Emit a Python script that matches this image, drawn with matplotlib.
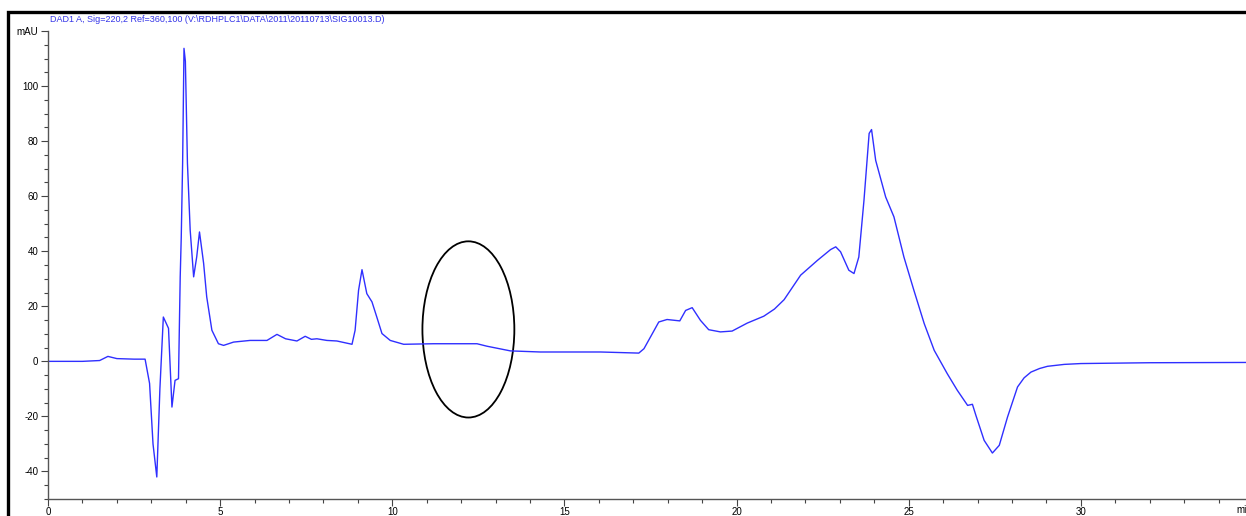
import matplotlib
matplotlib.use("Agg")
import matplotlib.pyplot as plt
from matplotlib.patches import Ellipse, Rectangle

plt.rcParams['font.family'] = ['Liberation Sans', 'DejaVu Sans']

# Retention time (min) and absorbance (mAU)
time_min = [0.0, 1.0, 1.5, 1.74, 2.0, 2.5, 2.82, 2.95, 3.05, 3.16, 3.25, 3.35, 3.50,
            3.60, 3.69, 3.79, 3.84, 3.87, 3.91, 3.95, 3.99, 4.05, 4.13, 4.23, 4.32,
            4.40, 4.52, 4.61, 4.76, 4.95, 5.10, 5.39, 5.87, 6.36, 6.65, 6.9, 7.23,
            7.47, 7.65, 7.81, 8.1, 8.39, 8.83, 8.92, 9.02, 9.12, 9.26, 9.41, 9.55,
            9.70, 9.94, 10.33, 11.2, 12.46, 12.75, 13.43, 14.3, 16.05, 17.16, 17.31,
            17.55, 17.74, 17.98, 18.35, 18.52, 18.71, 18.95, 19.19, 19.53, 19.87, 20.31,
            20.79, 21.1, 21.38, 21.86, 22.35, 22.73, 22.88, 23.02, 23.26, 23.41, 23.55,
            23.70, 23.85, 23.92, 24.04, 24.33, 24.57, 24.86, 25.15, 25.45, 25.74,
            26.12, 26.41, 26.71, 26.85, 26.95, 27.19, 27.43, 27.63, 27.87, 28.16,
            28.35, 28.55, 28.8, 29.03, 29.52, 30.0, 32.0, 34.8]
absorbance_mau = [0.0, 0.0, 0.3, 1.8, 1.0, 0.8, 0.8, -8.0, -30.0, -42.0, -10.0, 16.1, 12.0,
                  -16.6, -6.9, -6.3, 30.7, 45.0, 72.0, 113.7, 109.0, 72.0, 47.6, 30.7, 38.0,
                  47.0, 35.6, 23.4, 11.3, 6.4, 5.8, 7.0, 7.6, 7.6, 9.8, 8.2, 7.4,
                  9.1, 8.0, 8.2, 7.6, 7.4, 6.2, 11.3, 25.8, 33.3, 24.6, 21.6, 16.1,
                  10.1, 7.6, 6.2, 6.4, 6.4, 5.5, 3.8, 3.4, 3.4, 3.0, 4.6,
                  10.0, 14.3, 15.2, 14.7, 18.5, 19.5, 14.9, 11.5, 10.7, 11.0, 13.9,
                  16.4, 19.0, 22.4, 31.3, 36.7, 40.6, 41.6, 39.8, 33.1, 31.9, 37.9,
                  58.5, 82.8, 84.2, 73.0, 59.7, 52.5, 37.9, 25.8, 13.7, 4.0,
                  -4.5, -10.5, -16.0, -15.6, -19.6, -28.7, -33.3, -30.5, -20.2, -9.3,
                  -6.0, -3.9, -2.6, -1.8, -1.1, -0.8, -0.5, -0.4]

x_ticks = [0, 5, 10, 15, 20, 25, 30]
y_ticks = [-40, -20, 0, 20, 40, 60, 80, 100, 120]
y_tick_labels = ['-40', '-20', '0', '20', '40', '60', '80', '100', 'mAU']
title = r"DAD1 A, Sig=220,2 Ref=360,100 (V:\RDHPLC1\DATA\2011\20110713\SIG10013.D)"

W, H = 1246, 516
fig = plt.figure(figsize=(W / 100, H / 100), dpi=100)
ax = fig.add_axes([48 / W, 17 / H, (W - 48) / W + 0.01, (499 - 31) / H])

ax.plot(time_min, absorbance_mau, color='#2f2fff', lw=1.0)
ax.add_patch(Ellipse((12.21, 11.6), 2.67, 64, fill=False, edgecolor='black', lw=1.3))

ax.set_xlim(0, 34.8 + 0.01 * W / ((W - 48) / 34.4))
ax.set_ylim(-50, 120)
ax.set_xticks(x_ticks)
ax.set_xticks(range(0, 35), minor=True)
ax.set_yticks(y_ticks)
ax.set_yticklabels(y_tick_labels)
ax.set_yticks(range(-50, 121, 5), minor=True)

for s in ['top', 'right']:
    ax.spines[s].set_visible(False)
for s in ['left', 'bottom']:
    ax.spines[s].set_color('#555555')
    ax.spines[s].set_linewidth(1.0)

ax.tick_params(which='major', length=5, width=0.8, color='#444444', labelsize=7, pad=2)
ax.tick_params(axis='x', which='major', pad=0.5)
ax.tick_params(which='minor', length=3, width=0.8, color='#444444')

fig.text(1236 / W, 1 - 510 / H, 'min', fontsize=7, va='center', ha='left')
fig.text(50 / W, 1 - 20 / H, title, fontsize=6.5, color='#3535e8', va='center', ha='left')

frame = Rectangle((8 / W, -0.05), 1.1, (516 - 12) / H + 0.05, transform=fig.transFigure,
                  fill=False, edgecolor='black', lw=2.4, clip_on=False)
fig.patches.append(frame)

fig.savefig('out.png', dpi=100)
